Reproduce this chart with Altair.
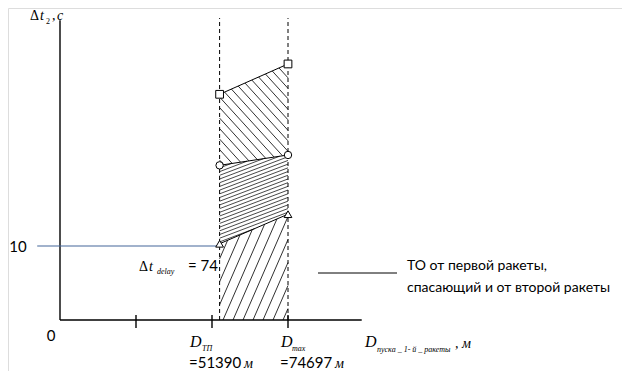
import altair as alt
import pandas as pd
import numpy as np

# ---------------- data (diagram units: x = abstract distance, y = seconds) -------------
x_ticks = [1, 2, 3]              # tick marks on the distance axis
x_tp = 2.1                       # D_TP boundary (dashed)
x_max = 3.0                      # D_max boundary (dashed)
x_axis_end = 3.97
y_axis_end = 40.5
dash_top = 40.8
square_y = [30.5, 34.6]          # upper boundary (squares) at x_tp, x_max
circle_y = [20.9, 22.3]          # middle boundary (circles)
triangle_y = [10.3, 14.3]        # lower boundary (triangles)
delay_level = 10                 # Δt = 10 level line
blue_start = -0.3

# ---------------- scale setup ----------------
PXX, PXY = 76.0, 7.4             # pixels per unit
ORX, ORY = 60.0, 320.0           # page position of origin
W, H = 614, 363
xs = alt.Scale(domain=[(8 - ORX) / PXX, (8 + W - ORX) / PXX], nice=False, zero=False)
ys = alt.Scale(domain=[(ORY - 8 - H) / PXY, (ORY - 8) / PXY], nice=False, zero=False)


def seg_chart(df, **mark):
    return alt.Chart(df).mark_rule(**mark).encode(
        x=alt.X("x:Q", scale=xs, axis=None),
        y=alt.Y("y:Q", scale=ys, axis=None),
        x2="x2:Q",
        y2="y2:Q",
    )


def hatch(xa, xb, lo, hi, slope_px, spacing_px):
    m = slope_px * PXX / PXY
    dc = spacing_px / PXY
    slo = (lo[1] - lo[0]) / (xb - xa)
    shi = (hi[1] - hi[0]) / (xb - xa)
    corners = [(xa, lo[0]), (xb, lo[1]), (xa, hi[0]), (xb, hi[1])]
    cs = [yy - m * xx for xx, yy in corners]
    rows = []
    for c in np.arange(min(cs) + dc * 0.5, max(cs), dc):
        x_lo, x_hi = xa, xb
        cons = [(m - slo, c - lo[0] + slo * xa), (shi - m, hi[0] - shi * xa - c)]
        ok = True
        for a, b in cons:
            if abs(a) < 1e-12:
                if b < 0:
                    ok = False
            elif a > 0:
                x_lo = max(x_lo, -b / a)
            else:
                x_hi = min(x_hi, -b / a)
        if ok and x_hi - x_lo > 1e-6:
            rows.append({"x": x_lo, "y": m * x_lo + c, "x2": x_hi, "y2": m * x_hi + c})
    return pd.DataFrame(rows)


hatch_color = "#1a1a1a"
hA = seg_chart(hatch(x_tp, x_max, circle_y, square_y, -1.1, 10.5), stroke=hatch_color, strokeWidth=0.9)
hB = seg_chart(hatch(x_tp, x_max, triangle_y, circle_y, 0.38, 3.7), stroke=hatch_color, strokeWidth=0.8)
hC = seg_chart(hatch(x_tp, x_max, [0, 0], triangle_y, 2.3, 23), stroke=hatch_color, strokeWidth=0.9)

bounds = pd.DataFrame({
    "x": [x_tp] * 3, "x2": [x_max] * 3,
    "y": [square_y[0], circle_y[0], triangle_y[0]],
    "y2": [square_y[1], circle_y[1], triangle_y[1]],
})
bound_lines = seg_chart(bounds, stroke="black", strokeWidth=1)

dashed = seg_chart(pd.DataFrame({"x": [x_tp, x_max], "x2": [x_tp, x_max], "y": [0, 0], "y2": [dash_top] * 2}),
                   stroke="black", strokeWidth=1, strokeDash=[4, 3])

axes = seg_chart(pd.DataFrame({"x": [0, 0], "x2": [0, x_axis_end], "y": [0, 0], "y2": [y_axis_end, 0]}),
                 stroke="black", strokeWidth=1.4)

ticks = alt.Chart(pd.DataFrame({"x": x_ticks})).mark_rule(stroke="black", strokeWidth=1.4).encode(
    x=alt.X("x:Q", scale=xs, axis=None), y=alt.value(315 - 8), y2=alt.value(328 - 8))

blue = seg_chart(pd.DataFrame({"x": [blue_start], "x2": [x_tp], "y": [delay_level], "y2": [delay_level]}),
                 stroke="#44679a", strokeWidth=1.2)

legend_line = alt.Chart(pd.DataFrame({"a": [0]})).mark_rule(stroke="black", strokeWidth=1).encode(
    x=alt.value(318 - 8), x2=alt.value(397 - 8), y=alt.value(273 - 8))


def pts(yvals, shape, size):
    df = pd.DataFrame({"x": [x_tp, x_max], "y": yvals})
    return alt.Chart(df).mark_point(shape=shape, size=size, filled=True, fill="white",
                                    stroke="black", strokeWidth=1, opacity=1).encode(
        x=alt.X("x:Q", scale=xs, axis=None), y=alt.Y("y:Q", scale=ys, axis=None))


squares = pts(square_y, "square", 60)
circles = pts(circle_y, "circle", 55)
triangles = pts(triangle_y, "triangle-up", 60)

SERIF = "Liberation Serif"
SANS = "Lato"


def label(text, px, py, size, font=SERIF, italic=False, align="left"):
    kw = dict(font=font, fontSize=size, align=align, baseline="alphabetic", color="black")
    if italic:
        kw["fontStyle"] = "italic"
    return alt.Chart(pd.DataFrame({"t": [text]})).mark_text(**kw).encode(
        x=alt.value(px - 8), y=alt.value(py - 8), text="t:N")


labels = [
    label("Δ", 30, 20, 14),
    label("t", 40, 20, 14, italic=True),
    label("2", 46, 24, 8),
    label(",", 52, 20, 14),
    label("c", 57, 20, 14, italic=True),
    label("10", 18, 252, 15, font=SANS, align="center"),
    label("0", 51, 341, 15, font=SANS, align="center"),
    label("Δ", 139, 271, 14),
    label("t", 149, 271, 14, italic=True),
    label("delay", 157, 274, 8, italic=True),
    label("= 74", 218, 271, 15, font=SANS, align="right"),
    label("D", 190, 347, 16, italic=True),
    label("ТП", 202, 351, 8, italic=True),
    label("=51390", 189, 368, 15, font=SANS),
    label("м", 244, 368, 14, italic=True),
    label("D", 281, 347, 16, italic=True),
    label("max", 292, 351, 8, italic=True),
    label("=74697", 280, 368, 15, font=SANS),
    label("м", 335, 368, 14, italic=True),
    label("D", 365, 347, 16, italic=True),
    label("пуска _ 1- й _ ракеты", 377, 352, 8, italic=True),
    label(", м", 455, 348, 14, italic=True),
    label("ТО от первой ракеты,", 407, 270, 14, font=SANS),
    label("спасающий и от второй ракеты", 407, 292, 14, font=SANS),
]

chart = alt.layer(
    hC, hB, hA, dashed, bound_lines, axes, ticks, blue, legend_line,
    squares, circles, triangles, *labels
).properties(
    width=W, height=H, padding=0, autosize=alt.AutoSizeParams(type="none")
).configure_view(stroke=None).configure(background="white")

chart.save("out.html", embed_options={"renderer": "svg", "actions": False})
